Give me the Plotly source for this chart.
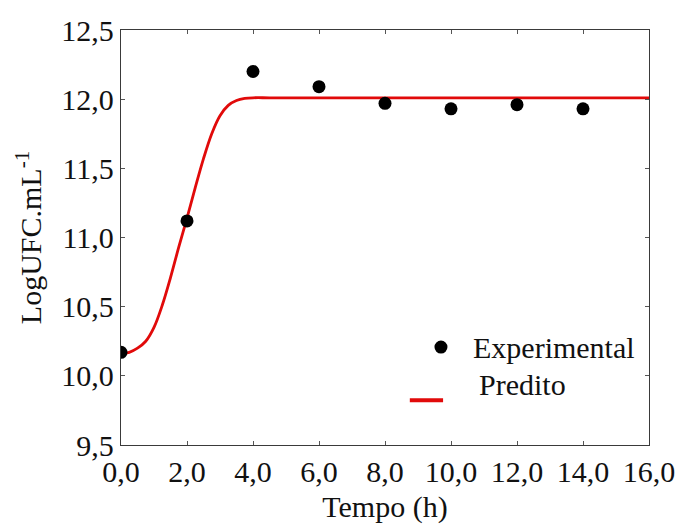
import plotly.graph_objects as go

# Experimental counts (log CFU/mL) over time
tempo_exp = [0, 2, 4, 6, 8, 10, 12, 14]
log_exp = [10.17, 11.12, 12.20, 12.09, 11.97, 11.93, 11.96, 11.93]

# Predicted growth curve
tempo_pred = [0, 0.25, 0.5, 0.75, 1.0, 1.25, 1.5, 1.75, 2.0, 2.25, 2.5, 2.75, 3.0, 3.25, 3.5, 3.75, 4.0, 4.5, 6.0, 10.0, 16.0]
log_pred = [10.16, 10.17, 10.20, 10.25, 10.35, 10.51, 10.71, 10.93, 11.14, 11.36, 11.57, 11.75, 11.88, 11.955, 11.99, 12.005, 12.01, 12.01, 12.01, 12.01, 12.01]

x_ticks = [0, 2, 4, 6, 8, 10, 12, 14, 16]
y_ticks = [9.5, 10.0, 10.5, 11.0, 11.5, 12.0, 12.5]

FONT = "Liberation Serif"
FS = 30
RED = "#e10a0a"
INK = "#111111"

fig = go.Figure()
fig.add_trace(go.Scatter(
    x=tempo_pred, y=log_pred, mode="lines",
    line=dict(color=RED, width=2.8, shape="spline", smoothing=1.0),
    showlegend=False,
))
fig.add_trace(go.Scatter(
    x=tempo_exp, y=log_exp, mode="markers",
    marker=dict(color="black", size=13),
    showlegend=False,
))

axis_common = dict(
    showgrid=False, zeroline=False, showline=True, linecolor="#3a3a3a", linewidth=1.3,
    mirror="ticks", ticks="inside", ticklen=4, tickcolor="#555555", tickwidth=1,
    tickfont=dict(family=FONT, size=FS, color=INK),
)

fig.update_layout(
    width=678, height=528,
    margin=dict(l=121, r=29, t=30, b=83),
    paper_bgcolor="white", plot_bgcolor="white",
    separators=",.",
    xaxis=dict(range=[0, 16], tickvals=x_ticks, tickformat=".1f",
               title=dict(text="Tempo (h)", font=dict(family=FONT, size=FS, color=INK), standoff=8),
               automargin=False, **axis_common),
    yaxis=dict(range=[9.5, 12.5], tickvals=y_ticks, tickformat=".1f",
               title=dict(text="LogUFC.mL<sup>-1</sup>", font=dict(family=FONT, size=FS, color=INK), standoff=10),
               automargin=False, **axis_common),
)

# Legend drawn by hand
fig.add_shape(type="circle", xref="paper", yref="paper",
              xsizemode="pixel", ysizemode="pixel",
              xanchor=0.606, yanchor=0.236, x0=-6.5, x1=6.5, y0=-6.5, y1=6.5,
              fillcolor="black", line=dict(width=0))
fig.add_shape(type="line", xref="paper", yref="paper",
              x0=0.547, x1=0.610, y0=0.108, y1=0.108,
              line=dict(color=RED, width=4))
fig.add_annotation(xref="paper", yref="paper", x=0.663, y=0.236, xanchor="left", yanchor="middle",
                   text="Experimental", showarrow=False,
                   font=dict(family=FONT, size=FS, color=INK))
fig.add_annotation(xref="paper", yref="paper", x=0.674, y=0.145, xanchor="left", yanchor="middle",
                   text="Predito", showarrow=False,
                   font=dict(family=FONT, size=FS, color=INK))

fig.write_html("out.html")
